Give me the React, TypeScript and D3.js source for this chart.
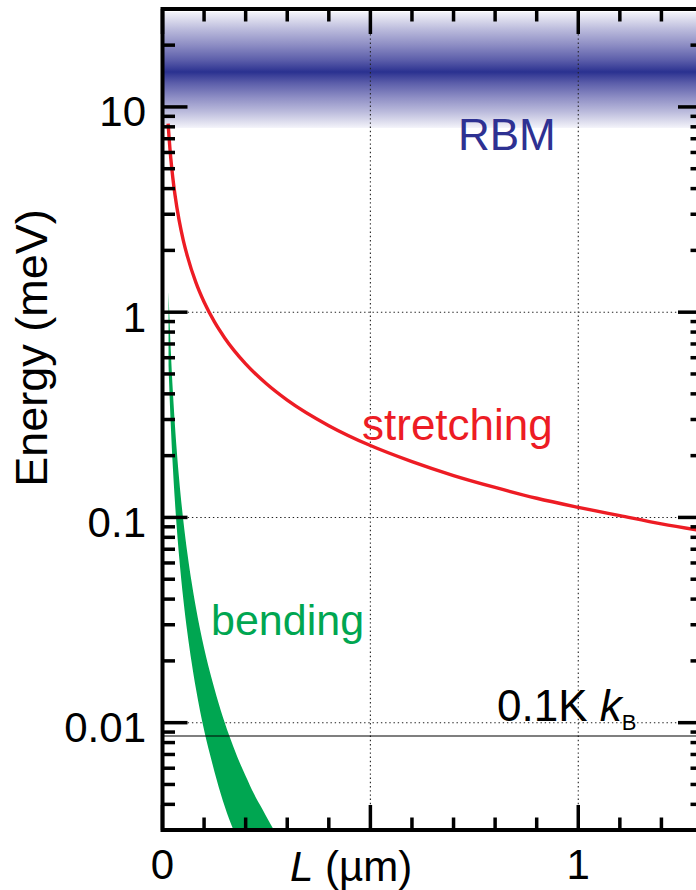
import React from "react";
import * as d3 from "d3";

// Length axis (µm) and energy axis (meV)
const xDomain: [number, number] = [0, 1.3];
const yDomain: [number, number] = [0.003, 30];
const xLabelTicks = [0, 1];
const yLabelTicks = [0.01, 0.1, 1, 10];
const yLabelText = ["0.01", "0.1", "1", "10"];

// Stretching mode energy vs length
const stretchL = [0.0135, 0.016, 0.02, 0.025, 0.03, 0.04, 0.05, 0.06, 0.08, 0.1, 0.125, 0.15, 0.2, 0.25, 0.3, 0.4, 0.5, 0.6, 0.7, 0.8, 0.9, 1.0, 1.1, 1.2, 1.3];
const stretchE = [8.3, 7.0, 5.6, 4.48, 3.73, 2.8, 2.24, 1.87, 1.4, 1.12, 0.896, 0.747, 0.56, 0.448, 0.373, 0.28, 0.224, 0.187, 0.16, 0.14, 0.124, 0.112, 0.102, 0.093, 0.086];

// Bending mode: lower and upper bounds of the band
const bendL = [0.0145, 0.016, 0.02, 0.025, 0.03, 0.04, 0.05, 0.06, 0.07, 0.08, 0.1, 0.12, 0.14, 0.16, 0.18, 0.2, 0.22, 0.24, 0.26, 0.28];
const bendLow = [0.553, 0.449, 0.28, 0.174, 0.1185, 0.0644, 0.0401, 0.0273, 0.0197, 0.0148, 0.0092, 0.0063, 0.0045, 0.0034, 0.0027, 0.0021, 0.0017, 0.0014, 0.0012, 0.001];
const bendHigh = [1.26, 1.03, 0.647, 0.408, 0.28, 0.154, 0.097, 0.0666, 0.0484, 0.0367, 0.0231, 0.0159, 0.0115, 0.0087, 0.0068, 0.0055, 0.0045, 0.0038, 0.0032, 0.00275];

// Radial breathing mode band (meV)
const rbmLow = 7.9;
const rbmCenter = 14.8;
const rbmHigh = 29;

// Thermal energy at 0.1 K (meV)
const thermalE = 0.008617;

const W = 696;
const H = 890;
const left = 162.5;
const right = 703;
const top = 9;
const bottom = 830;

const FONT = "'Liberation Sans', Arial, Helvetica, sans-serif";
const RED = "#ed1c24";
const GREEN = "#00a651";
const NAVY = "#2e3192";

export default function App() {
  const x = d3.scaleLinear().domain(xDomain).range([left, right]);
  const y = d3.scaleLog().domain(yDomain).range([bottom, top]);

  const stretchPts = stretchL.map((l, i) => [x(l), y(stretchE[i])] as [number, number]);
  const stretchPath = d3.line().curve(d3.curveMonotoneX)(stretchPts) || "";

  const bendData = bendL.map((l, i) => ({ l, lo: bendLow[i], hi: bendHigh[i] }));
  const bendPath =
    d3
      .area<{ l: number; lo: number; hi: number }>()
      .x((d) => x(d.l))
      .y0((d) => y(d.lo))
      .y1((d) => y(d.hi))
      .curve(d3.curveMonotoneX)(bendData) || "";

  // minor ticks
  const yMinor: number[] = [];
  for (let e = -3; e <= 1; e++) {
    for (let k = 1; k <= 9; k++) {
      const v = k * Math.pow(10, e);
      if (v >= yDomain[0] && v <= yDomain[1]) yMinor.push(v);
    }
  }
  const xTicks = d3.range(0, 14).map((i) => i / 10);
  const isMajorX = (v: number) => Math.abs(v * 2 - Math.round(v * 2)) < 1e-6;
  const isMajorY = (v: number) => Math.abs(Math.log10(v) - Math.round(Math.log10(v))) < 1e-6;

  const minorLen = 12.5;
  const majorLen = 25;

  // RBM gradient
  const yTop = y(rbmHigh);
  const yBot = y(rbmLow);
  const yC = y(rbmCenter);
  const cOff = (yC - yTop) / (yBot - yTop);
  const profile: [number, string][] = [
    [1.0, "#f4f4fa"],
    [0.9, "#e0e0ef"],
    [0.7, "#b9b9db"],
    [0.45, "#8d8dc4"],
    [0.2, "#5c5eaa"],
    [0.06, "#3a3f98"],
    [0.0, "#2a3190"],
  ];
  const stops: { off: number; color: string }[] = [];
  profile.forEach(([d, c]) => stops.push({ off: cOff * (1 - d), color: c }));
  profile
    .slice()
    .reverse()
    .forEach(([d, c]) => stops.push({ off: cOff + (1 - cOff) * d, color: c }));

  const gridStyle = {
    stroke: "#222",
    strokeWidth: 1.1,
    strokeDasharray: "1.4 2.8",
    fill: "none",
  } as const;

  return (
    <svg
      width={W}
      height={H}
      viewBox={`0 0 ${W} ${H}`}
      style={{ position: "absolute", left: 0, top: 0, background: "#fff" }}
    >
      <defs>
        <clipPath id="plot-clip">
          <rect x={left} y={top} width={right - left} height={bottom - top} />
        </clipPath>
        <linearGradient id="rbm-grad" gradientUnits="userSpaceOnUse" x1={0} x2={0} y1={yTop} y2={yBot}>
          {stops.map((s, i) => (
            <stop key={i} offset={s.off} stopColor={s.color} />
          ))}
        </linearGradient>
      </defs>

      <g clipPath="url(#plot-clip)">
        {/* RBM band */}
        <rect x={left} y={yTop} width={right - left} height={yBot - yTop} fill="url(#rbm-grad)" />

        {/* grid */}
        {[0.5, 1.0].map((v) => (
          <line key={`gx${v}`} x1={x(v)} x2={x(v)} y1={top} y2={bottom} {...gridStyle} />
        ))}
        {[0.01, 0.1, 1].map((v) => (
          <line key={`gy${v}`} x1={left} x2={right} y1={y(v)} y2={y(v)} {...gridStyle} />
        ))}

        {/* bending band */}
        <path d={bendPath} fill={GREEN} stroke="none" />

        {/* thermal energy line */}
        <line x1={left} x2={right} y1={y(thermalE)} y2={y(thermalE)} stroke="#000" strokeWidth={1.1} />

        {/* stretching curve */}
        <path d={stretchPath} fill="none" stroke={RED} strokeWidth={3.4} />
      </g>

      {/* ticks */}
      <g stroke="#000" strokeWidth={3.5}>
        {yMinor.map((v) => {
          const len = isMajorY(v) ? majorLen : minorLen;
          return (
            <g key={`yt${v}`}>
              <line x1={left} x2={left + len} y1={y(v)} y2={y(v)} />
              <line x1={right} x2={right - len} y1={y(v)} y2={y(v)} />
            </g>
          );
        })}
        {xTicks.map((v) => {
          const len = isMajorX(v) ? majorLen : minorLen;
          return (
            <g key={`xt${v}`}>
              <line x1={x(v)} x2={x(v)} y1={bottom} y2={bottom - len} />
              <line x1={x(v)} x2={x(v)} y1={top} y2={top + len} />
            </g>
          );
        })}
      </g>

      {/* frame */}
      <rect x={left} y={top} width={right - left} height={bottom - top} fill="none" stroke="#000" strokeWidth={4} />

      {/* tick labels */}
      <g fontFamily={FONT} fontSize={42} fill="#000">
        {yLabelTicks.map((v, i) => (
          <text key={`yl${v}`} x={146} y={y(v) + 19.5} textAnchor="end">
            {yLabelText[i]}
          </text>
        ))}
        {xLabelTicks.map((v) => (
          <text key={`xl${v}`} x={x(v)} y={879} textAnchor="middle">
            {v}
          </text>
        ))}
      </g>

      {/* axis titles */}
      <text x={290} y={881} fontFamily={FONT} fontSize={42} fill="#000">
        <tspan fontStyle="italic">L</tspan>
        <tspan> (µm)</tspan>
      </text>
      <text
        transform="translate(47,348) rotate(-90)"
        textAnchor="middle"
        fontFamily={FONT}
        fontSize={45}
        fill="#000"
      >
        Energy (meV)
      </text>

      {/* annotations */}
      <text x={458} y={150} fontFamily={FONT} fontSize={44} fill={NAVY}>
        RBM
      </text>
      <text x={362} y={440} fontFamily={FONT} fontSize={44} fill={RED}>
        stretching
      </text>
      <text x={211} y={635} fontFamily={FONT} fontSize={43} fill={GREEN}>
        bending
      </text>
      <text x={497} y={721} fontFamily={FONT} fontSize={44} fill="#000">
        <tspan>0.1K </tspan>
        <tspan fontStyle="italic">k</tspan>
        <tspan fontSize={22} dy={9}>
          B
        </tspan>
      </text>
    </svg>
  );
}
